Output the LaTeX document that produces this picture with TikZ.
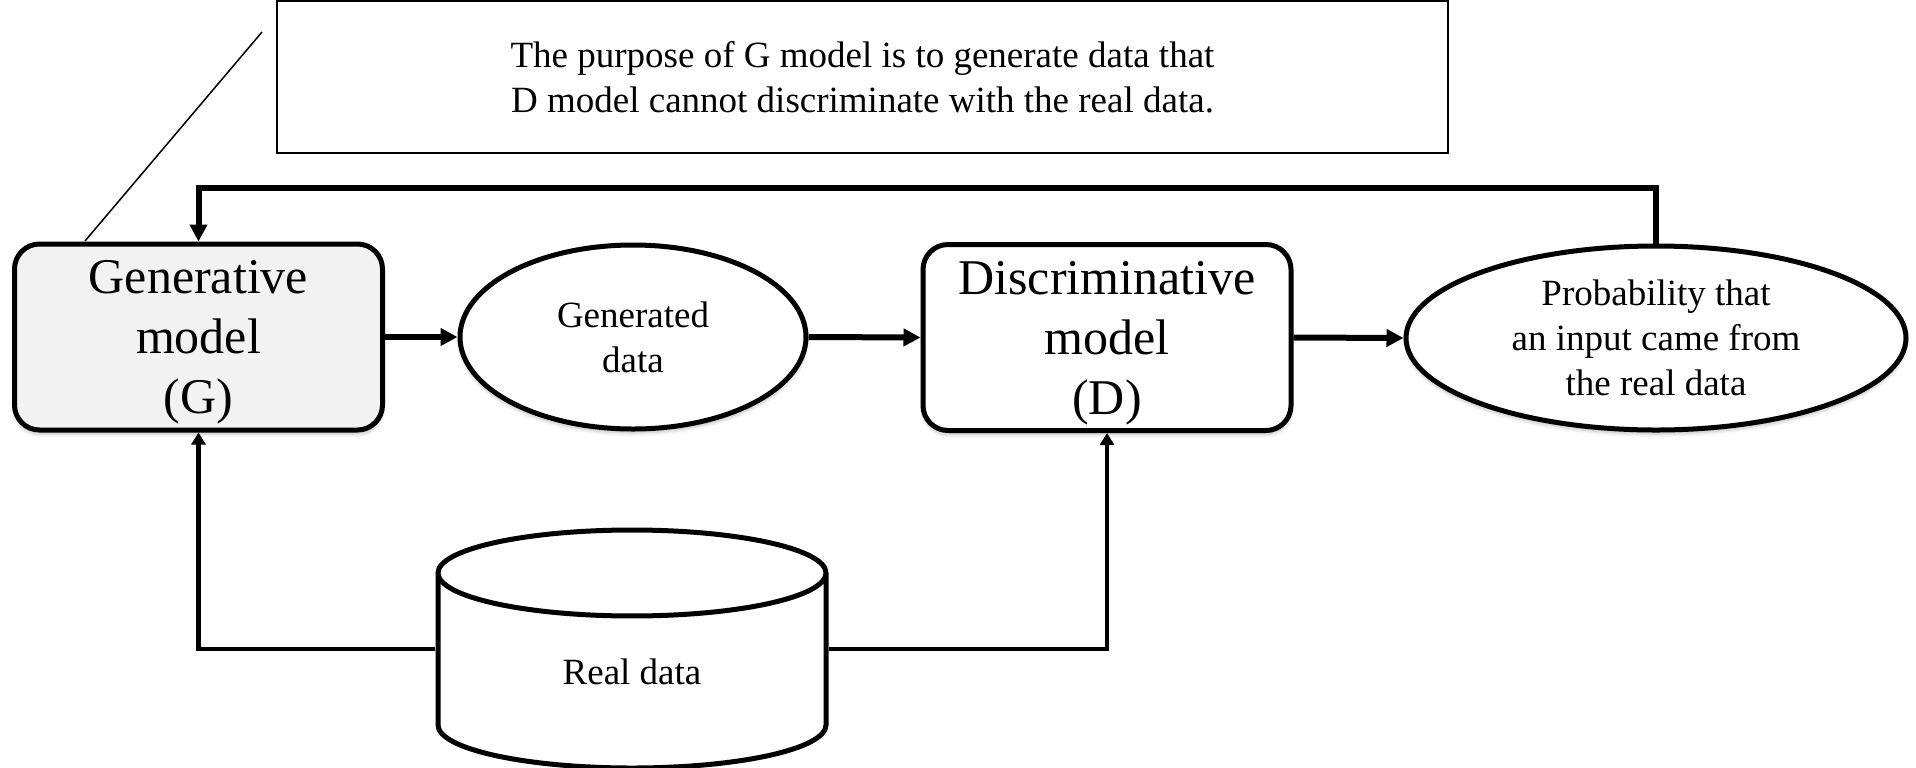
\documentclass[tikz,border=0pt]{standalone}
\usepackage{fontspec}
\setmainfont{Liberation Serif}
\usepackage{xcolor}
\usepackage{tikz}
\usetikzlibrary{positioning,shapes,shapes.geometric,arrows.meta,shadows.blur}
\definecolor{gfill}{HTML}{F2F2F2}

\begin{document}
\begin{tikzpicture}[x=0.5pt,y=-0.5pt,
        model/.style={draw,line width=2.5pt,rounded corners=12.5pt,minimum width=184pt,minimum height=93pt,
          inner sep=0pt,align=center,font=\fontsize{25}{30}\selectfont,text depth=0pt,fill=white,
          blur shadow={shadow xshift=0pt,shadow yshift=-2pt,shadow opacity=25,shadow blur steps=6}},
        dataell/.style={draw,ellipse,line width=2.5pt,minimum height=92pt,inner sep=0pt,align=center,
          font=\fontsize{18.5}{22.5}\selectfont,fill=white,
          blur shadow={shadow xshift=0pt,shadow yshift=-2pt,shadow opacity=25,shadow blur steps=6}},
        flow/.style={line width=3pt,-{Triangle[length=8.5pt,width=8.5pt]}},
        feed/.style={line width=2.2pt,-{Triangle[length=6pt,width=7pt]}}]
        \useasboundingbox (0,0) rectangle (1916,767);
        % note on top
        \node[draw,line width=1pt,minimum width=585.5pt,minimum height=76pt,align=center,
          font=\fontsize{18.5}{22.5}\selectfont] (note) at (862.5,77)
          {The purpose of G model is to generate data that\\D model cannot discriminate with the real data.};
        \coordinate (callA) at (262,32);
        \coordinate (callB) at (85,241);
        \draw[line width=0.75pt] (callA) -- (callB);
        % models and data
        \node[model,fill=gfill] (G) at (198.5,337) {Generative\\model\\(G)};
        \node[dataell,minimum width=173pt] (gen) at (633,337) {Generated\\data};
        \node[model] (D) at (1107,337.5) {Discriminative\\model\\(D)};
        \node[dataell,minimum width=250pt] (prob) at (1656,338)
          {Probability that\\an input came from\\the real data};
        \node[draw,cylinder,shape border rotate=90,aspect=0.62,line width=2.5pt,fill=white,
          minimum width=194pt,minimum height=119pt,inner sep=0pt,anchor=shape center,
          font=\fontsize{18.5}{22.5}\selectfont] (real) at (632,649) {Real data};
        \draw[flow] (G.east) -- (gen.west);
        \draw[flow] (gen.east) -- (D.west);
        \draw[flow] (D.east) -- (prob.west);
        \draw[flow] (prob.north) -- ++(0,-56) -| (G.north);
        \draw[feed] (real.west |- real.shape center) -| (G.south);
        \draw[feed] (real.east |- real.shape center) -| (D.south);
      \end{tikzpicture}
\end{document}
